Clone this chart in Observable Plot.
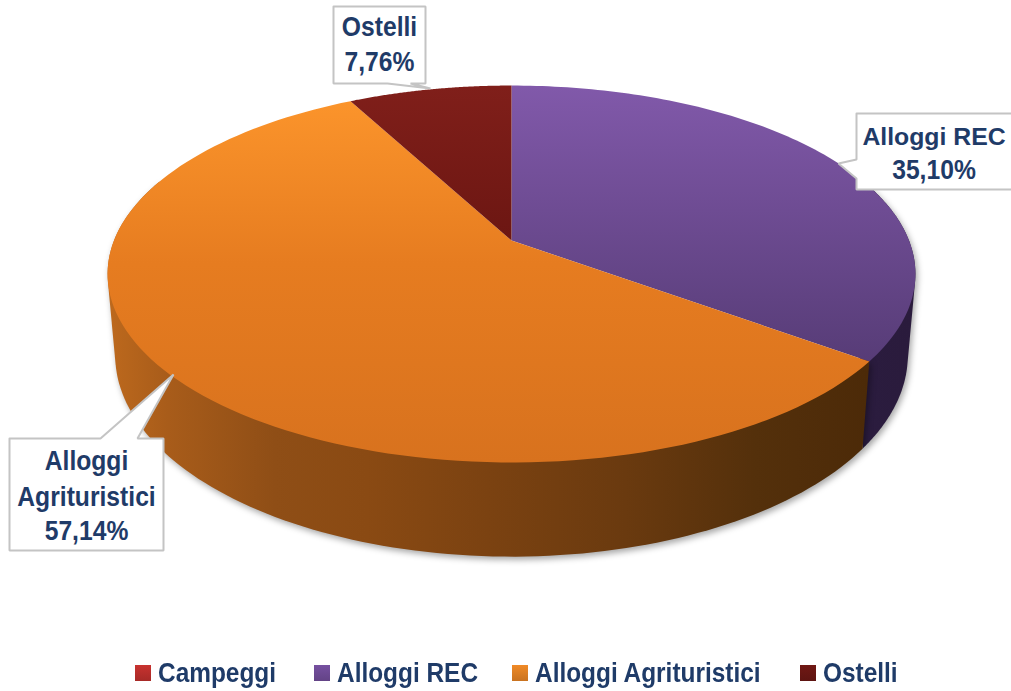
<!DOCTYPE html>
<html lang="it">
<head>
<meta charset="utf-8">
<script src="https://cdn.jsdelivr.net/npm/d3@7"></script>
<script src="https://cdn.jsdelivr.net/npm/@observablehq/plot@0.6"></script>
<style>
  html, body { margin: 0; padding: 0; background: #fff; overflow: hidden; }
  #chart svg { display: block; }
  #legend { height: 41px; position: relative; font: bold 27px "Liberation Sans", Arial, sans-serif; color: #1f3b68; }
  #legend .item { position: absolute; top: 5px; display: flex; align-items: center; line-height: 36px; white-space: nowrap; }
  #legend .swatch { width: 16px; height: 16px; margin-right: 7px; display: inline-block; }
  #legend .name { display: inline-block; transform: scaleX(0.904); transform-origin: left center; }
</style>
</head>
<body>
<div id="chart"></div>
<div id="legend"></div>
<script>
// Data
const categories = ["Campeggi", "Alloggi REC", "Alloggi Agrituristici", "Ostelli"];
const shares = [0, 35.10, 57.14, 7.76];
const shareLabels = ["0,00%", "35,10%", "57,14%", "7,76%"];

// Appearance
const topStops = [
  [["0%", "#d23b36"], ["100%", "#a62a26"]],
  [["0%", "#8159aa"], ["100%", "#573c77"]],
  [["0%", "#fb942b"], ["45%", "#e67c20"], ["100%", "#d8721e"]],
  [["0%", "#801f1a"], ["100%", "#6c1612"]]
];
const sideStops = [
  [["0%", "#5e1a18"], ["100%", "#5e1a18"]],
  [["0%", "#2b1c3f"], ["100%", "#2a1b3c"]],
  [["0%", "#bd691d"], ["8%", "#a85c1a"], ["22%", "#8f4e16"], ["34%", "#8a4a13"],
   ["50%", "#7b4211"], ["68%", "#6a3a0f"], ["85%", "#54300b"], ["100%", "#4c2a08"]],
  [["0%", "#4a1110"], ["100%", "#4a1110"]]
];
const legendSwatches = ["#c8322f", "#7650a0", "#f08a26", "#701814"];
const legendLeft = [135, 314, 512, 800];

// Perspective disc (angle measured clockwise from 12 o'clock)
const W = 1011, H = 650;
const topDisc = {cx: 511, cy: 240, a: 397.5, b: 182.5, e: 0.1777};
const baseDisc = {cx: 511, cy: 319, a: 390, b: 195, e: 0.1777};
const project = (d, t) => {
  const k = 1 + d.e * Math.cos(t);
  return {x: d.cx + d.a * Math.sin(t) / k, y: d.cy - d.b * Math.cos(t) / k};
};
const angles = (a0, a1) => d3.range(0, 121).map((i) => a0 + (a1 - a0) * i / 120);

// Slices derived from the shares
const total = d3.sum(shares);
let cum = 0;
const slices = categories.map((name, i) => {
  const t0 = cum / total * 2 * Math.PI;
  cum += shares[i];
  return {name, i, t0, t1: cum / total * 2 * Math.PI};
}).filter((s) => s.t1 > s.t0);

const topPoly = (s) => [
  {x: topDisc.cx, y: topDisc.cy},
  ...angles(s.t0, s.t1).map((t) => project(topDisc, t)),
  {x: topDisc.cx, y: topDisc.cy}
];
// Only the front of the wall is seen; the hull gives the straight tangent edge at both ends
const wallFrom = 70 * Math.PI / 180, wallTo = 290 * Math.PI / 180;
const sidePoly = (s) => {
  const a0 = Math.max(s.t0, wallFrom), a1 = Math.min(s.t1, wallTo);
  if (a1 <= a0) return [];
  const ts = angles(a0, a1);
  const hull = d3.polygonHull([...ts.map((t) => project(topDisc, t)), ...ts.map((t) => project(baseDisc, t))]
    .map((p) => [p.x, p.y]));
  return [...hull, hull[0]].map(([x, y]) => ({x, y}));
};

// Callouts: box, tail and text
const callouts = [
  {lines: ["Ostelli", "7,76%"], cx: 379, ys: [27, 62],
   outline: [[333, 6], [425, 6], [425, 83], [410, 83], [430, 88], [387, 83], [333, 83]]},
  {lines: ["Alloggi REC", "35,10%"], cx: 933.5, ys: [137, 170],
   outline: [[856, 113], [1030, 113], [1030, 189], [856, 189], [856, 178], [838, 163], [856, 159]]},
  {lines: ["Alloggi", "Agrituristici", "57,14%"], cx: 86, ys: [461, 497, 531],
   outline: [[9, 438], [100, 438], [173, 374], [137, 438], [163, 438], [163, 550], [9, 550]]}
];
const calloutLines = callouts.flatMap((c) => c.lines.map((text, j) => ({text, x: c.cx, y: c.ys[j]})));
// The longest label sits against the page edge, so it is set smaller instead of squeezed
const edgeLabel = "Alloggi REC";

const gradientDefs = () => {
  const defs = d3.create("svg:defs");
  const add = (id, stops, horizontal) => {
    const g = defs.append("linearGradient").attr("id", id)
      .attr("x1", 0).attr("y1", 0).attr("x2", horizontal ? 1 : 0).attr("y2", horizontal ? 0 : 1);
    stops.forEach(([o, c]) => g.append("stop").attr("offset", o).attr("stop-color", c));
  };
  topStops.forEach((st, i) => add(`top${i}`, st, false));
  sideStops.forEach((st, i) => add(`side${i}`, st, true));
  return defs.node();
};

const chart = Plot.plot({
  width: W, height: H,
  margin: 0,
  style: {background: "#fff"},
  x: {domain: [0, W], range: [0, W], axis: null},
  y: {domain: [0, H], range: [0, H], axis: null},
  marks: [
    gradientDefs,
    ...slices.filter((s) => sidePoly(s).length).map((s) =>
      Plot.line(sidePoly(s), {x: "x", y: "y", fill: `url(#side${s.i})`, stroke: "none",
        imageFilter: "drop-shadow(2px 3px 3px rgba(0,0,0,0.35))"})),
    ...slices.map((s) =>
      Plot.line(topPoly(s), {x: "x", y: "y", fill: `url(#top${s.i})`, stroke: "none"})),
    ...callouts.map((c) =>
      Plot.line([...c.outline, c.outline[0]], {x: "0", y: "1", fill: "#fff", stroke: "#c4c4c4", strokeWidth: 2,
        strokeLinejoin: "miter"})),
    Plot.text(calloutLines.filter((d) => d.text !== edgeLabel), {x: "x", y: "y", text: "text", fill: "#1f3b68", fontSize: 26.8, fontWeight: "bold",
      fontFamily: "'Liberation Sans', Arial, sans-serif", textAnchor: "middle", lineAnchor: "middle", className: "squeezed"}),
    Plot.text(calloutLines.filter((d) => d.text === edgeLabel), {x: "x", y: "y", text: "text", fill: "#1f3b68", fontSize: 24.8, fontWeight: "bold",
      fontFamily: "'Liberation Sans', Arial, sans-serif", textAnchor: "middle", lineAnchor: "middle"})
  ]
});
document.getElementById("chart").append(chart);

// Reference type is condensed: keep real text, squeeze glyphs to the measured width
d3.select(chart).selectAll(".squeezed text").each(function () {
  this.setAttribute("textLength", (this.getComputedTextLength() * 0.92).toFixed(1));
  this.setAttribute("lengthAdjust", "spacingAndGlyphs");
});

const legend = d3.select("#legend");
categories.forEach((name, i) => {
  const item = legend.append("div").attr("class", "item").style("left", legendLeft[i] + "px");
  item.append("span").attr("class", "swatch").style("background", `linear-gradient(${legendSwatches[i]}, ${d3.color(legendSwatches[i]).darker(0.5)})`);
  item.append("span").attr("class", "name").text(name);
});
</script>
</body>
</html>
